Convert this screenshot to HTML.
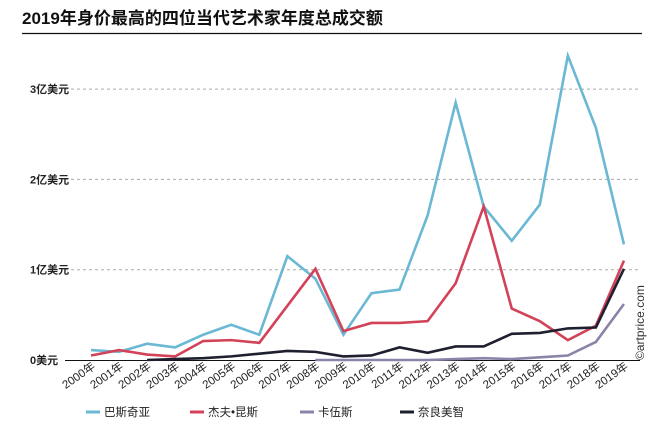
<!DOCTYPE html>
<html><head><meta charset="utf-8"><style>
body{margin:0;background:#fff;}
svg text{font-family:"Liberation Sans","Noto Sans CJK SC",sans-serif;}
</style></head><body>
<svg width="653" height="429" viewBox="0 0 653 429">
<text x="22" y="24" font-size="17" font-weight="bold" fill="#111">2019年身价最高的四位当代艺术家年度总成交额</text>
<line x1="22" y1="33.5" x2="642" y2="33.5" stroke="#111" stroke-width="1.2"/>
<g id="grid"></g>
<g id="xlab"></g>
<g id="lines"></g>
<text transform="translate(644,360) rotate(-90)" font-size="12" fill="#333">©artprice.com</text>
<g id="legend"></g>
</svg>
<script>
const years=["2000年","2001年","2002年","2003年","2004年","2005年","2006年","2007年","2008年","2009年","2010年","2011年","2012年","2013年","2014年","2015年","2016年","2017年","2018年","2019年"];
const yTicks=[0,1,2,3];
const yTickLabels=["0美元","1亿美元","2亿美元","3亿美元"];
const basquiat=[0.11,0.09,0.18,0.14,0.28,0.39,0.28,1.15,0.9,0.28,0.74,0.78,1.6,2.85,1.7,1.32,1.72,3.37,2.57,1.28];
const koons=[0.05,0.11,0.06,0.04,0.21,0.22,0.19,0.6,1.01,0.32,0.41,0.41,0.43,0.85,1.7,0.57,0.43,0.22,0.38,1.1];
const kaws=[null,null,null,null,null,null,null,null,0,0,0,0,0,0.01,0.02,0.01,0.03,0.05,0.2,0.62];
const nara=[null,null,0,0.01,0.02,0.04,0.07,0.1,0.09,0.04,0.05,0.14,0.08,0.15,0.15,0.29,0.3,0.35,0.36,1.01];
const seriesNames=["巴斯奇亚","杰夫•昆斯","卡伍斯","奈良美智"];
const colors=["#6bb8d4","#d2435a","#8a84a8","#1e2030"];
const NS="http://www.w3.org/2000/svg";
const x=i=>91+i*28.05, y=v=>360-v*90.3;
function mk(t,a,p){const e=document.createElementNS(NS,t);for(const k in a)e.setAttribute(k,a[k]);p.appendChild(e);return e;}
const grid=document.getElementById('grid');
yTicks.forEach((v,i)=>{
 if(v>0){const l=mk('line',{x1:65,x2:640,y1:y(v),y2:y(v),stroke:'#aaa','stroke-dasharray':'3,3'},grid);
 
 }
 const t=mk('text',{x:30,y:y(v)+4,'font-size':11,'font-weight':'bold',fill:'#222'},grid);t.textContent=yTickLabels[i];
 
 
});
const ax=mk('line',{x1:65,x2:640,y1:360.5,y2:360.5,stroke:'#111','stroke-width':1},grid);


const xl=document.getElementById('xlab');
years.forEach((s,i)=>{const t=mk('text',{transform:`translate(${x(i)+5},${368}) rotate(-35)`,'text-anchor':'end','font-size':11.5,fill:'#222'},xl);t.textContent=s;
 
 });
const lg=document.getElementById('lines');
[basquiat,koons,kaws,nara].forEach((d,k)=>{
 const pts=[];d.forEach((v,i)=>{if(v!==null)pts.push(x(i)+','+y(v));});
 const p=mk('polyline',{points:pts.join(' '),fill:'none',stroke:colors[k],'stroke-width':2.6,'stroke-linejoin':'miter'},lg);
 
 
});
const leg=document.getElementById('legend');
const lx=[86,190,300,400];
seriesNames.forEach((n,k)=>{
 const g=mk('g',{},leg);
 
 
 mk('line',{x1:lx[k],x2:lx[k]+14,y1:412,y2:412,stroke:colors[k],'stroke-width':3},g);
 const t=mk('text',{x:lx[k]+18,y:416,'font-size':11.5,fill:'#222'},g);t.textContent=n;
});
</script>
</body></html>
